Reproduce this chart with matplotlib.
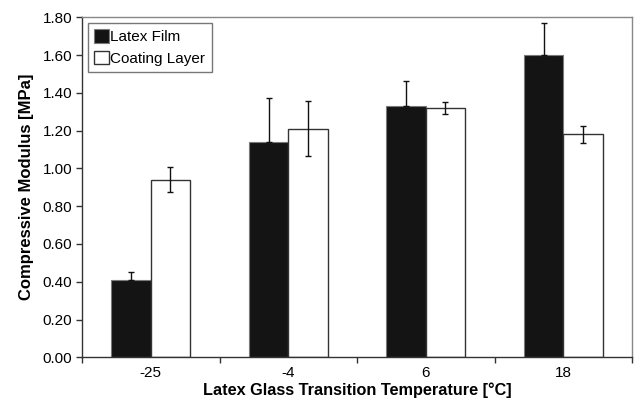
import numpy as np
import matplotlib.pyplot as plt
from matplotlib.ticker import FixedLocator, FormatStrFormatter

plt.rcParams['font.family'] = ['Liberation Sans', 'DejaVu Sans']

temps = ['-25', '-4', '6', '18']
film = [0.41, 1.14, 1.33, 1.60]
film_err = [0.04, 0.235, 0.135, 0.17]
coat = [0.94, 1.21, 1.32, 1.18]
coat_err = [0.067, 0.146, 0.03, 0.046]

x = np.arange(len(temps))
w = 0.287

fig = plt.figure(figsize=(6.34, 4.04), dpi=100)
ax = fig.add_axes([82 / 634, 46.7 / 404, 550 / 634, 340 / 404])

# film bars only show the upper whisker
ax.bar(x - w / 2, film, w, color='#141414', edgecolor='#7a7a7a', linewidth=0.8,
       label='Latex Film', zorder=2)
ax.errorbar(x - w / 2, film, yerr=[np.zeros(len(film)), film_err], fmt='none',
            ecolor='#111111', elinewidth=1.0, capsize=2.0, capthick=1.0, zorder=3)
ax.bar(x + w / 2, coat, w, color='white', edgecolor='#333333', linewidth=1.0,
       label='Coating Layer', zorder=2)
ax.errorbar(x + w / 2, coat, yerr=coat_err, fmt='none',
            ecolor='#111111', elinewidth=1.0, capsize=2.0, capthick=1.0, zorder=3)

ax.set_xlim(-0.5, len(temps) - 0.5)
ax.set_ylim(0, 1.8)
ax.set_yticks(np.arange(0, 1.81, 0.2))
ax.yaxis.set_major_formatter(FormatStrFormatter('%.2f'))
ax.set_xticks(x)
ax.set_xticklabels(temps)
ax.xaxis.set_minor_locator(FixedLocator(np.arange(-0.5, len(temps), 1.0)))
ax.tick_params(axis='x', which='major', length=0, pad=6, labelsize=11)
ax.tick_params(axis='x', which='minor', length=4, width=1.0, color='#333333')
ax.tick_params(axis='y', length=4, width=1.0, color='#333333', labelsize=11, pad=3)

for side in ['left', 'bottom']:
    ax.spines[side].set_color('#333333')
    ax.spines[side].set_linewidth(1.0)
for side in ['top', 'right']:
    ax.spines[side].set_color('#888888')
    ax.spines[side].set_linewidth(1.0)

ax.set_xlabel('Latex Glass Transition Temperature [°C]', fontsize=11.7, fontweight='bold',
              labelpad=2)
ax.set_ylabel('Compressive Modulus [MPa]', fontsize=12, fontweight='bold', labelpad=6)

leg = ax.legend(loc='upper left', bbox_to_anchor=(0.01, 0.984), fontsize=11,
                frameon=True, fancybox=False, handlelength=1.0, handleheight=1.0,
                handletextpad=0.1, borderpad=0.4, labelspacing=0.45, borderaxespad=0)
leg.get_frame().set_edgecolor('#555555')
leg.get_frame().set_linewidth(1.0)

fig.savefig('out.png', dpi=100)
